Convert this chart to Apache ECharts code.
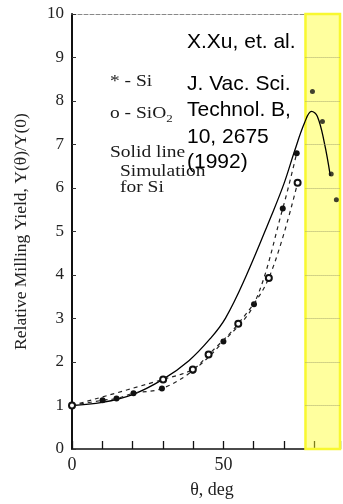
<!DOCTYPE html>
<html><head><meta charset="utf-8">
<script src="https://cdn.jsdelivr.net/npm/echarts@6/dist/echarts.min.js"></script>
<style>html,body{margin:0;padding:0;background:#fff}#c{width:343px;height:504px}</style>
</head><body><div id="c"></div>
<script>
// ---- data ----
const simX = [0, 10, 20, 30, 38.6, 45.8, 50.7, 57.2, 65.7, 70, 73.5, 76.8, 79.1, 81, 83.3, 85.3];
const simY = [1, 1.07, 1.25, 1.6, 2.03, 2.55, 3.01, 3.93, 5.34, 6.1, 6.85, 7.5, 7.76, 7.65, 7.05, 6.28];
const siX = [0, 10.1, 14.7, 20.3, 29.7, 39.9, 50, 60.1, 69.6, 74.2];
const siY = [1, 1.12, 1.16, 1.28, 1.39, 1.8, 2.47, 3.33, 5.53, 6.8];
const sio2X = [0, 30.1, 39.9, 45.1, 54.9, 65, 74.5];
const sio2Y = [1, 1.6, 1.83, 2.17, 2.88, 3.93, 6.12];
const extraX = [79.4, 82.7, 85.6, 87.3];
const extraY = [8.22, 7.53, 6.32, 5.73];
const xTickLabels = [0, 50];
const yTicks = [0, 1, 2, 3, 4, 5, 6, 7, 8, 9, 10];
const highlightX = [77.1, 88.5];
const legendLines = ['* - Si', 'o - SiO{s|2}', 'Solid line', 'Simulation', 'for Si'];
const refLines = ['X.Xu, et. al.', 'J. Vac. Sci.', 'Technol. B,', '10, 2675', '(1992)'];

const zip = (a, b) => a.map((v, i) => [v, b[i]]);
const SERIF = 'Liberation Serif';
const SANS = 'Liberation Sans';

const chart = echarts.init(document.getElementById('c'));
const legendPos = [[110, 82], [110, 114], [110, 153], [120, 172], [120, 188]];
const refPos = [[187, 42.5], [187, 84.5], [187, 110.5], [187, 137], [187, 162]];

const graphics = [];
legendLines.forEach((t, i) => graphics.push({
  type: 'text', x: legendPos[i][0], y: legendPos[i][1], scaleX: 1.18, originX: 0, z: 50,
  style: { text: t, font: '16.5px "' + SERIF + '"', fill: '#1a1a1a', verticalAlign: 'middle', align: 'left',
    rich: { s: { font: '11px "' + SERIF + '"', fill: '#1a1a1a', padding: [10, 0, 0, 0] } } }
}));
refLines.forEach((t, i) => graphics.push({
  type: 'text', x: refPos[i][0], y: refPos[i][1], z: 60,
  style: { text: t, font: '21px "' + SANS + '"', fill: '#000', verticalAlign: 'middle', align: 'left' }
}));

chart.setOption({
  animation: false,
  grid: { left: 72, right: 0, top: 14, bottom: 52 },
  xAxis: [{
    type: 'value', min: 0, max: 88.5, interval: 10,
    axisLine: { lineStyle: { color: '#111', width: 1.5 } },
    axisTick: { inside: true, length: 8, lineStyle: { color: '#111', width: 1.3 } },
    splitLine: { show: false },
    axisLabel: { formatter: v => xTickLabels.includes(v) ? String(v) : '', fontFamily: SERIF, fontSize: 18, color: '#222', margin: 7 },
    name: 'θ, deg', nameLocation: 'middle', nameGap: 32,
    nameTextStyle: { fontFamily: SERIF, fontSize: 18, color: '#222', padding: [0, 0, 0, 12] }
  }, {
    type: 'value', position: 'top', min: 0, max: 88.5, interval: 10,
    axisLine: { lineStyle: { color: '#888', width: 1, type: 'dashed' } },
    axisTick: { show: false }, axisLabel: { show: false }, splitLine: { show: false }
  }],
  yAxis: {
    type: 'value', min: 0, max: 10, interval: 1,
    axisLine: { lineStyle: { color: '#111', width: 2 } },
    axisTick: { inside: true, length: 4, lineStyle: { color: '#333' } },
    splitLine: { show: false },
    axisLabel: { fontFamily: SERIF, fontSize: 17, color: '#222', margin: 8 },
    name: 'Relative Milling Yield, Y(θ)/Y(0)', nameLocation: 'middle', nameGap: 42, nameRotate: 90,
    nameTextStyle: { fontFamily: SERIF, fontSize: 17.5, color: '#222' }
  },
  series: [
    { type: 'line', data: zip(simX, simY), smooth: 0.4, symbol: 'none',
      lineStyle: { color: '#000', width: 1.3 }, z: 3 },
    { type: 'line', data: zip(siX, siY), smooth: 0.35, symbol: 'circle', symbolSize: 6,
      itemStyle: { color: '#111' }, lineStyle: { color: '#222', width: 1.2, type: [4, 4] }, z: 3 },
    { type: 'line', data: zip(sio2X, sio2Y), smooth: 0.35, symbol: 'emptyCircle', symbolSize: 6,
      itemStyle: { color: '#111', borderColor: '#111', borderWidth: 1.2 },
      lineStyle: { color: '#222', width: 1.2, type: [4, 4] }, z: 4 },
    { type: 'scatter', data: zip(extraX, extraY), symbol: 'circle', symbolSize: 5,
      itemStyle: { color: '#111' }, z: 3 },
    { type: 'line', data: [], z: 20, silent: true,
      markArea: { silent: true,
        itemStyle: { color: 'rgba(255,255,40,0.45)', borderColor: '#f8f830', borderWidth: 2.5 },
        data: [[{ coord: [highlightX[0], 0] }, { coord: [highlightX[1], 10] }]] },
      markLine: { silent: true, symbol: 'none', label: { show: false },
        lineStyle: { color: '#a8a870', width: 1, type: 'dotted' },
        data: yTicks.slice(1, -1).map(k => [{ coord: [highlightX[0], k] }, { coord: [highlightX[1], k] }]) }
    }
  ],
  graphic: graphics
});
</script></body></html>
